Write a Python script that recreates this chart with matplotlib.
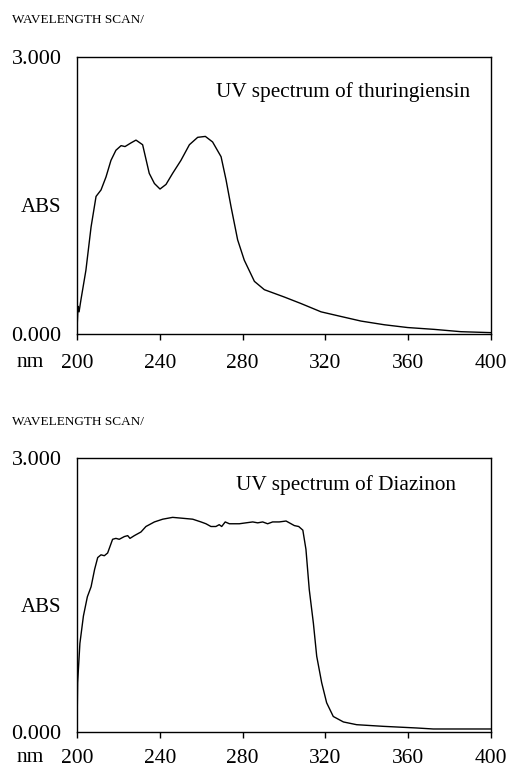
import matplotlib
matplotlib.use("Agg")
import matplotlib.pyplot as plt

# ---- data ----
thur_nm = [200.0, 200.5, 201.0, 201.9, 204.3, 206.8, 209.2, 211.6, 214.0, 216.4, 218.8,
           221.3, 223.2, 226.1, 228.5, 231.7, 234.9, 237.4, 240.1, 243.0, 246.2,
           250.2, 254.3, 258.3, 262.0, 265.5, 269.6, 272.0, 274.4, 277.6, 280.8,
           285.7, 290.5, 300.2, 308.2, 317.9, 327.5, 337.2, 348.5, 359.7, 372.6,
           385.5, 399.7]
thur_abs = [0.05, 0.30, 0.24, 0.37, 0.69, 1.16, 1.49, 1.56, 1.70, 1.88, 1.99,
            2.04, 2.03, 2.07, 2.10, 2.05, 1.74, 1.63, 1.57, 1.62, 1.74,
            1.88, 2.05, 2.13, 2.14, 2.08, 1.92, 1.67, 1.38, 1.02, 0.80,
            0.57, 0.48, 0.40, 0.33, 0.24, 0.19, 0.14, 0.10, 0.07, 0.05,
            0.025, 0.015]

diaz_nm = [200.0, 200.3, 201.4, 203.1, 205.0, 206.8, 208.5, 210.0, 211.6, 213.2, 214.8,
           217.2, 218.8, 220.4, 222.9, 224.5, 225.6, 227.7, 230.9, 233.3, 237.4,
           241.4, 246.2, 251.1, 255.9, 259.9, 262.3, 264.7, 267.1, 268.7, 269.9,
           271.6, 273.6, 278.4, 281.6, 284.9, 287.3, 289.7, 292.1, 294.5, 297.7,
           301.0, 303.4, 305.0, 307.1, 309.1, 310.6, 312.2, 314.2, 315.8, 318.2,
           320.6, 323.8, 328.7, 335.1, 348.0, 364.1, 372.1, 400.0]
diaz_abs = [0.03, 0.54, 0.97, 1.27, 1.48, 1.59, 1.78, 1.91, 1.94, 1.93, 1.96,
            2.11, 2.12, 2.11, 2.14, 2.15, 2.12, 2.15, 2.19, 2.25, 2.30,
            2.33, 2.35, 2.34, 2.33, 2.30, 2.28, 2.25, 2.25, 2.27, 2.25,
            2.30, 2.28, 2.28, 2.29, 2.30, 2.29, 2.30, 2.28, 2.30, 2.30,
            2.31, 2.28, 2.26, 2.25, 2.21, 2.00, 1.56, 1.19, 0.83, 0.54,
            0.32, 0.17, 0.11, 0.08, 0.062, 0.044, 0.033, 0.033]

x_ticks = [200, 240, 280, 320, 360, 400]
y_ticks = [0, 3]
y_ticklabels = ["0.000", "3.000"]
titles = ["UV spectrum of thuringiensin", "UV spectrum of Diazinon"]
header = "WAVELENGTH SCAN/"

W, H = 509, 770
plt.rcParams['font.family'] = ['Liberation Serif', 'DejaVu Serif']
fig = plt.figure(figsize=(W / 100, H / 100), dpi=100)

def px(x, y):
    return x / W, 1 - y / H

panels = [
    dict(nm=thur_nm, ab=thur_abs, top=57, bottom=334, title=titles[0],
         title_xy=(470, 92), head_y=20, abs_y=207, nm_y=362, xpad=10),
    dict(nm=diaz_nm, ab=diaz_abs, top=458, bottom=732, title=titles[1],
         title_xy=(456, 485), head_y=422, abs_y=608, nm_y=757, xpad=7.5),
]

for p in panels:
    left, right = 77, 491
    ax = fig.add_axes([left / W, 1 - p['bottom'] / H, (right - left) / W,
                       (p['bottom'] - p['top']) / H])
    ax.plot(p['nm'], p['ab'], color='black', lw=1.0)
    ax.set_xlim(200, 400)
    ax.set_ylim(0, 3)
    ax.set_xticks(x_ticks)
    ax.set_xticklabels([str(t) for t in x_ticks], fontsize=15.5)
    ax.set_yticks(y_ticks)
    ax.set_yticklabels(y_ticklabels, fontsize=16)
    ax.tick_params(axis='x', direction='out', length=4.5, width=1.0, pad=p['xpad'])
    ax.tick_params(axis='y', length=0, pad=11)
    for s in ax.spines.values():
        s.set_linewidth(1.0)
    tx, ty = px(*p['title_xy'])
    fig.text(tx, ty, p['title'], fontsize=15.3, ha='right', va='center')
    fig.text(*px(12, p['head_y']), header, fontsize=9.5, ha='left', va='center')
    fig.text(*px(61, p['abs_y']), "ABS", fontsize=15, ha='right', va='center')
    fig.text(*px(17, p['nm_y']), "nm", fontsize=15.5, ha='left', va='center')

fig.savefig("out.png", dpi=100, facecolor='white')
